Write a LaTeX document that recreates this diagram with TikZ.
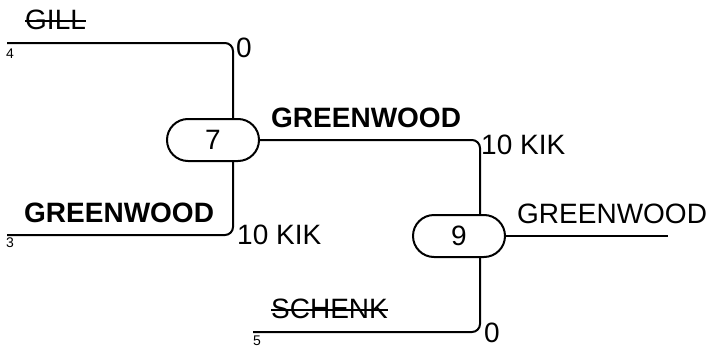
\documentclass[tikz,border=0pt]{standalone}
\usepackage{fontspec}
\setmainfont{Liberation Sans}
\usetikzlibrary{shapes.misc,positioning}
\newcommand\strikeout[1]{{\setbox0\hbox{#1}\rlap{\usebox0}\rule[7.5pt]{\wd0}{1.6pt}}}
\tikzset{
  game/.style={rounded rectangle, draw, line width=2pt, minimum width=92pt, minimum height=42pt, inner sep=0pt, font=\fontsize{28}{30}\selectfont},
  wire/.style={line width=2pt, rounded corners=8pt},
  player/.style={font=\fontsize{28}{30}\selectfont, inner sep=0pt, anchor=base west},
  seed/.style={font=\fontsize{14}{16}\selectfont, inner sep=0pt, anchor=base west},
  score/.style={font=\fontsize{28}{30}\selectfont, inner sep=0pt, anchor=base west}
}
\begin{document}
\begin{tikzpicture}[x=1pt,y=-1pt]
\useasboundingbox (0,0) rectangle (712,348);

% Drawing games
\node[game] (m7) at (213,140) {7};
\node[game] (m9) at (459,236) {9};

% Drawing bracket lines
\coordinate (gill) at (7,43);
\coordinate (greenwood) at (7,235);
\coordinate (schenk) at (253,332);
\coordinate (winner) at (668,236);
\draw[wire] (gill) -| ([xshift=20pt]m7.north);
\draw[wire] (greenwood) -| ([xshift=20pt]m7.south);
\draw[wire] (m7.east) -| ([xshift=21pt]m9.north);
\draw[wire] (schenk) -| ([xshift=21pt]m9.south);
\draw[wire] (m9.east) -- (winner);

% Drawing names, seeds and scores
\node[player] (gillname) at (25,29) {\strikeout{GILL}};
\node[seed] (gillseed) at (6,58) {4};
\node[score] (gillscore) at (236,57) {0};
\node[player] (greenwoodname) at (24,222) {\bfseries GREENWOOD};
\node[seed] (greenwoodseed) at (6,247) {3};
\node[score] (greenwoodscore) at (237,244) {10 KIK};
\node[player] (m7name) at (271,127) {\bfseries GREENWOOD};
\node[score] (m7score) at (481,154) {10 KIK};
\node[player] (schenkname) at (271,318) {\strikeout{SCHENK}};
\node[seed] (schenkseed) at (253,345) {5};
\node[score] (schenkscore) at (484,342) {0};
\node[player] (winnername) at (517,223) {GREENWOOD};
\end{tikzpicture}
\end{document}
